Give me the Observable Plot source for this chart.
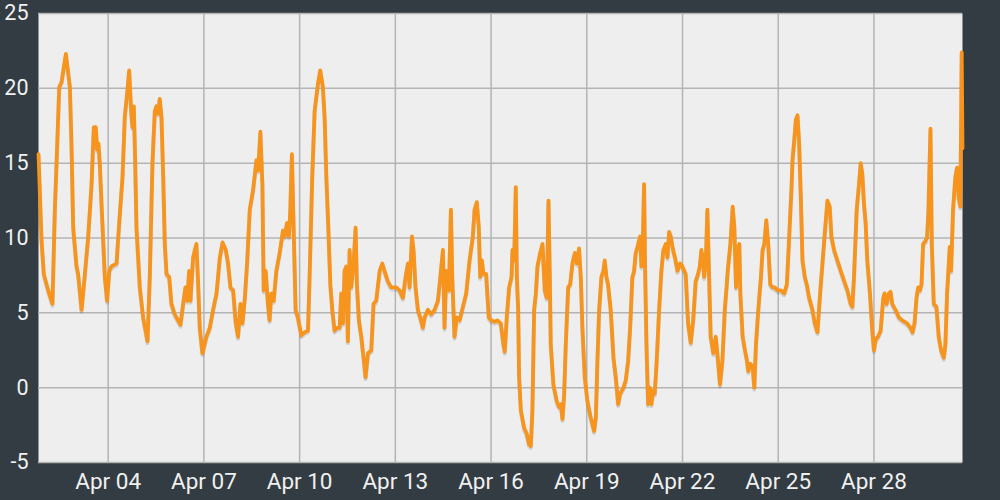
<!DOCTYPE html>
<html><head><meta charset="utf-8">
<script src="https://cdn.jsdelivr.net/npm/d3@7"></script>
<script src="https://cdn.jsdelivr.net/npm/@observablehq/plot@0.6"></script>
<style>
html,body{margin:0;padding:0;background:#333c42;}
#chart{width:1000px;height:500px;overflow:hidden;}
</style></head><body><div id="chart"></div>
<script>
// time of each reading, in hours after this start
const startDate = "2023-04-01T00:00:00Z";

const hours1 = [19.6,21.9,23.6,26.9,30.1,31.9,33.7,35.2,36.9,40.2,43.2,44.4,45.7,48.2,49.4,52.0,54.5,57.0,59.5,61.2,62.7,63.7,64.7,65.7,67.2,69.5,71.2,72.8,74.5,78.3,80.3,82.8,84.5,86.3,87.8,89.3,90.3,91.3,92.3,93.3,95.8,98.3,101.6,103.3,105.3,107.1,108.3,109.6,110.8,112.1,113.4,114.6,115.9,117.9,119.6,122.1,124.6,126.4,128.4,130.1,131.4,132.9,133.9,135.9,137.2,138.4,139.7,140.9,142.9,145.9,148.4,150.9,153.5,156.0,158.0,160.5,162.2,164.0,166.0,168.0,169.7,171.5,173.0,174.8,176.5,178.5,181.0,183.5,184.8,186.5,188.0,189.0,190.5];
const temps1 = [15.6,9.8,7.6,6.5,5.6,11.9,16.3,20.1,20.4,22.3,20.1,16.3,10.7,8.1,7.6,5.2,7.6,10.1,13.6,17.4,17.4,15.9,16.3,15.0,11.9,7.4,5.8,7.8,8.1,8.3,11.0,14.1,18.1,19.7,21.2,18.5,17.4,18.8,15.2,10.7,6.7,4.7,3.1,7.4,15.0,18.5,18.8,18.3,19.3,18.1,14.1,9.6,7.6,7.4,5.6,4.9,4.5,4.2,5.6,6.7,5.8,7.8,5.8,8.7,9.2,9.6,6.9,4.0,2.3,3.4,4.0,5.2,6.3,8.7,9.7,9.2,8.3,6.7,6.5,4.3,3.4,5.6,4.3,6.0,8.3,11.9,13.2,15.2,14.5,17.1,13.6,6.5,7.8];

const hours2 = [192.2,193.4,194.7,196.5,198.5,201.0,203.5,204.7,206.5,208.0,209.0,210.2,211.5,213.0,214.7,217.3,219.8,222.3,223.5,225.5,227.3,229.8,231.5,233.5,234.8,236.1,237.6,239.1,240.6,242.3,244.1,246.1,247.3,248.6,249.8,251.1,252.3,253.6,254.8,256.6,258.1,259.1,260.6,262.4,264.1,265.6,267.4,269.9,271.6,273.6,276.2,278.2,279.9,282.4,284.9,288.7,291.2,293.7,295.7,297.5,298.7,300.5,301.7,303.2,305.0,306.7,308.7,310.0,312.5,315.0,317.5,320.0,321.3,323.8,325.0,326.3,328.3,329.8,330.8,332.5,334.3,336.3,338.8,341.3,343.8,346.3,347.6,349.3,350.8,351.8,353.1,354.3,356.3,358.3,360.1,362.6];
const temps2 = [5.6,4.5,6.3,5.8,7.8,9.0,10.5,10.1,11.0,10.1,11.9,15.6,10.7,5.2,4.7,3.5,3.7,3.8,7.4,14.1,18.5,20.3,21.2,20.1,18.1,14.1,10.7,6.9,5.2,3.8,4.0,4.0,6.3,4.3,7.8,8.1,3.1,9.2,6.7,8.3,10.7,6.9,4.5,3.4,2.0,0.7,2.3,2.5,5.6,5.8,7.8,8.3,7.8,7.1,6.7,6.7,6.5,6.0,7.4,8.3,6.7,10.1,9.2,6.7,5.2,4.7,4.0,4.7,5.2,4.9,5.2,5.8,6.9,9.2,4.0,7.8,6.5,11.9,7.4,3.4,4.7,4.5,5.4,6.3,8.5,10.1,11.9,12.4,10.7,7.4,8.5,7.6,7.6,4.7,4.5,4.4];

const hours3 = [364.8,367.3,369.3,370.3,371.8,373.6,375.4,376.1,377.4,378.6,379.4,380.4,381.1,382.4,384.9,386.9,388.6,389.9,391.1,392.4,393.7,394.9,396.9,398.7,399.4,400.4,401.9,403.2,404.2,404.9,406.9,409.4,411.2,412.5,413.7,415.0,416.2,418.0,419.5,421.2,423.0,424.5,426.2,427.5,428.7,430.5,432.5,435.0,437.5,438.8,440.0,441.3,443.0,444.5,445.5,446.8,448.0,450.0,452.1,453.8,455.6,457.1,459.6,461.3,463.1,464.6,466.3,467.6,468.8,470.1,472.1,473.1,474.1,475.1,475.9,476.9,478.1,479.4,480.6,481.9,483.1,484.6,486.4,488.1,489.6,491.4,492.7,493.9,495.2,496.9,498.4,500.2,502.2,503.9,506.4,508.2,510.2,512.2,513.9,515.7,517.0,518.2,519.5,520.2,521.5,522.7,524.0,525.2,527.2,529.0,530.2,532.2,534.0,535.8,537.3];
const temps3 = [4.5,4.3,2.9,2.4,4.7,6.7,7.4,9.2,8.5,13.4,7.4,5.2,0.7,-1.5,-2.7,-3.1,-3.8,-3.9,-1.5,5.2,6.3,8.1,9.0,9.6,8.3,6.5,6.0,12.5,7.4,2.9,0.2,-0.9,-1.3,-1.1,-2.1,-0.4,2.9,6.7,6.9,8.3,9.0,8.3,9.3,7.4,4.0,0.7,-0.9,-2.0,-2.9,-2.0,1.8,5.2,7.4,7.8,8.5,7.4,6.9,5.2,2.0,0.7,-1.1,-0.4,0.0,0.5,1.8,4.0,7.4,7.8,9.0,9.4,10.1,8.1,9.6,13.6,7.8,2.9,-1.1,0.0,-1.1,-0.2,-0.4,1.8,5.2,7.8,9.2,9.6,8.7,10.4,10.1,9.2,8.7,7.8,8.3,8.1,7.6,4.3,3.0,4.7,7.1,7.6,8.1,9.2,8.5,7.4,8.3,11.9,7.4,3.4,2.3,3.4,2.3,0.2,1.8,5.2,6.9];

const hours4 = [538.0,540.0,541.75,543.0,544.25,545.5,546.75,547.5,549.25,551.0,552.5,553.5,555.0,556.75,558.0,559.25,561.0,563.0,564.25,565.5,567.0,568.5,570.0,571.75,573.5,575.5,578.0,580.5,582.5,584.25,586.0,586.75,588.0,589.25,590.5,591.75,593.0,594.25,596.0,597.5,599.25,601.75,603.5,605.5,607.5,609.25,611.0,613.0,614.75,616.0,618.0,623.0,628.0,630.5,631.75,633.0,635.0,636.75,638.0,639.25,640.5,641.75,643.0,645.0,646.75,648.0,649.25,651.0,653.0,655.0,656.0,657.5,659.25,660.5,661.75,664.25,666.75,669.25,673.0,675.5,677.0,678.5,680.0,681.25,682.5,683.75,685.0,686.75,688.0,689.0,690.5,691.5,693.0,695.0,696.75,698.5,700.5,701.75,703.0,705.0,706.0,707.5,709.25,710.5,711.75,713.0,714.0,714.6];
const temps4 = [7.8,9.6,12.1,10.7,6.7,9.2,9.6,6.3,3.4,2.5,1.8,1.1,1.6,1.4,0.0,2.9,5.2,7.4,9.2,9.6,11.2,9.6,6.9,6.7,6.7,6.5,6.5,6.3,6.9,10.1,13.4,15.2,16.5,17.9,18.2,16.3,12.7,8.5,7.4,6.9,6.0,5.2,4.3,3.7,6.3,8.3,10.3,12.5,12.1,10.1,9.2,7.8,6.5,5.6,5.4,7.4,11.9,13.6,15.0,14.3,12.3,11.0,8.5,6.3,3.8,2.5,3.2,3.4,3.8,6.0,6.3,5.6,6.3,6.4,5.6,5.2,4.7,4.5,4.3,4.0,3.7,4.3,6.0,6.7,6.5,6.9,9.6,9.8,10.1,11.9,17.3,9.6,5.6,5.4,3.4,2.5,2.0,2.9,6.3,9.4,7.8,11.9,14.1,14.7,12.7,12.1,22.4,16.0];

const xTickLabels = ["2023-04-04","2023-04-07","2023-04-10","2023-04-13","2023-04-16","2023-04-19","2023-04-22","2023-04-25","2023-04-28"];
const yTicks = [-5,0,5,10,15,20,25];
const xDomainHours = [19.6, 714.6];
const yDomain = [-5, 25];

const t0 = Date.parse(startDate);
const toDate = h => new Date(t0 + h * 3600e3);
const hours = [...hours1, ...hours2, ...hours3, ...hours4];
const temps = [...temps1, ...temps2, ...temps3, ...temps4];
const data = hours.map((h, i) => ({date: toDate(h), temp: temps[i]}));
const xTicks = xTickLabels.map(s => new Date(s + "T00:00:00Z"));

const chart = Plot.plot({
  width: 1000, height: 500,
  marginLeft: 38, marginRight: 38, marginTop: 13, marginBottom: 38,
  style: {background: "#333c42", fontFamily: "Roboto, sans-serif", fontSize: "21px", color: "#f0f0f0"},
  x: {type: "utc", domain: xDomainHours.map(toDate)},
  y: {domain: yDomain},
  marks: [
    Plot.frame({fill: "#eeeeee", stroke: null}),
    Plot.gridX({ticks: xTicks, stroke: "#b4b4b4", strokeOpacity: 1, strokeWidth: 1.5}),
    Plot.gridY({ticks: yTicks, stroke: "#b4b4b4", strokeOpacity: 1, strokeWidth: 1.5}),
    Plot.line(data, {x: "date", y: "temp", stroke: "#000", strokeOpacity: 0.12, strokeWidth: 4, dy: 2}),
    Plot.line(data, {x: "date", y: "temp", stroke: "#f7941d", strokeWidth: 3.8, strokeLinejoin: "round"}),
    Plot.axisX({ticks: xTicks, tickSize: 0, tickPadding: 11, tickFormat: d3.utcFormat("%b %d"), fill: "#f0f0f0", fontSize: 22.5, label: null}),
    Plot.axisY({ticks: yTicks, tickSize: 0, tickPadding: 10, tickFormat: d => String(d), fill: "#f0f0f0", fontSize: 21.5, label: null})
  ]
});
document.getElementById("chart").appendChild(chart);
</script></body></html>
